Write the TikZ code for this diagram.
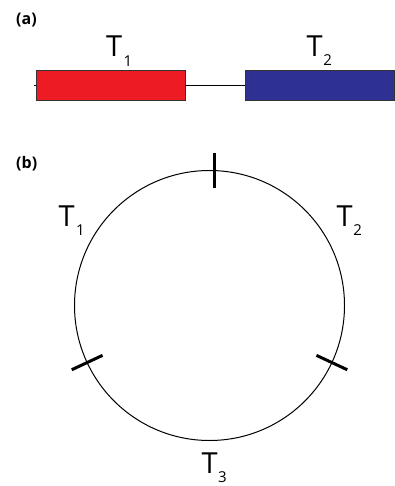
\documentclass[tikz,border=0pt]{standalone}
\usepackage{fontspec}
\setmainfont{Open Sans}
\usetikzlibrary{calc}
\definecolor{tred}{HTML}{ED1C24}
\definecolor{tblue}{HTML}{2E3192}
\newcommand\Tlab[2][0.5pt]{{\fontsize{29}{29}\selectfont T}\kern#1\raisebox{-9.5pt}{\fontsize{15}{15}\selectfont #2}}
\tikzset{
  panel/.style={font=\bfseries\fontsize{16}{16}\selectfont, anchor=west, inner sep=0pt},
  tlabel/.style={anchor=base west, inner sep=0pt},
  gene/.style={draw=black!80, line width=0.8pt, minimum width=149pt, minimum height=30pt, inner sep=0pt},
  tick/.style={line width=3pt},
}
\begin{document}
\begin{tikzpicture}[x=1pt,y=-1pt]
\useasboundingbox[fill=white] (0,0) rectangle (395,486);
% panel (a)
\node[panel] (pa) at (16,20.5) {(a)};
\node[gene, fill=tred] (red) at (110.5,85.5) {};
\node[gene, fill=tblue] (blue) at (319.5,85.5) {};
\coordinate (lstart) at (34,85.5);
\draw[line width=0.8pt] (lstart) -- (red.west);
\draw[line width=0.8pt] (red.east) -- (blue.west);
\node[tlabel] (t1a) at (106,56.7) {\Tlab[1.5pt]{1}};
\node[tlabel] (t2a) at (306.5,56.5) {\Tlab{2}};
% panel (b)
\node[panel] (pb) at (16,164) {(b)};
\node[draw, circle, line width=1pt, minimum size=270pt, inner sep=0pt] (circ) at (209.5,305.5) {};
\draw[tick] ($(circ.center)+(5,-118)$) -- ($(circ.center)+(5,-152)$);
\foreach \a/\n in {205.3/left, 335/right}{
  \draw[tick] ($(circ.center)!118pt!(circ.\a)$) -- ($(circ.center)!152pt!(circ.\a)$);
}
\node[tlabel] (t1b) at (58.5,226) {\Tlab[1.5pt]{1}};
\node[tlabel] (t2b) at (336.5,226) {\Tlab{2}};
\node[tlabel] (t3) at (201.5,473) {\Tlab{3}};
\end{tikzpicture}
\end{document}
